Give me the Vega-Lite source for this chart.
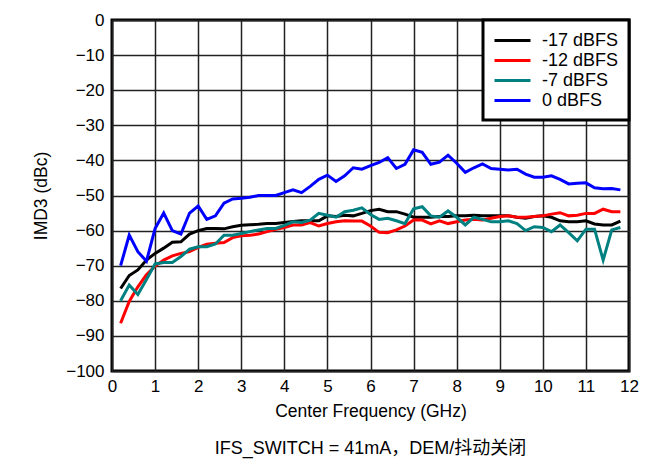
{
  "$schema": "https://vega.github.io/schema/vega-lite/v6.json",
  "autosize": "none",
  "width": 517,
  "height": 351,
  "padding": {"left": 112, "top": 20, "right": 33, "bottom": 94},
  "background": "white",
  "config": {
    "font": "Liberation Sans, Noto Sans CJK SC",
    "view": {"stroke": "black", "strokeWidth": 3},
    "legend": {"strokeColor": "black", "strokeWidth": 3, "fillColor": "white"},
    "axis": {"labelFont": "Liberation Sans", "titleFont": "Liberation Sans", "labelFontSize": 17, "titleFontSize": 17.5, "titleFontWeight": "normal", "labelColor": "black", "titleColor": "black", "grid": true, "gridColor": "#222", "gridWidth": 1.5, "gridOpacity": 1, "ticks": false, "domain": false}
  },
  "title": {"text": "IFS_SWITCH = 41mA，DEM/抖动关闭", "orient": "bottom", "fontSize": 18, "fontWeight": "normal", "font": "Liberation Sans, Noto Sans CJK SC", "color": "black", "offset": 20},
  "data": {"values": [
    {"f":0.2,"s":"-17 dBFS","v":-76.5},{"f":0.4,"s":"-17 dBFS","v":-72.8},{"f":0.6,"s":"-17 dBFS","v":-71.2},{"f":0.8,"s":"-17 dBFS","v":-68.4},{"f":1.0,"s":"-17 dBFS","v":-66.5},{"f":1.2,"s":"-17 dBFS","v":-65},{"f":1.4,"s":"-17 dBFS","v":-63.3},{"f":1.6,"s":"-17 dBFS","v":-63.2},{"f":1.8,"s":"-17 dBFS","v":-61},{"f":2.0,"s":"-17 dBFS","v":-60},{"f":2.2,"s":"-17 dBFS","v":-59.4},{"f":2.4,"s":"-17 dBFS","v":-59.4},{"f":2.6,"s":"-17 dBFS","v":-59.5},{"f":2.8,"s":"-17 dBFS","v":-58.9},{"f":3.0,"s":"-17 dBFS","v":-58.5},{"f":3.2,"s":"-17 dBFS","v":-58.3},{"f":3.4,"s":"-17 dBFS","v":-58.2},{"f":3.6,"s":"-17 dBFS","v":-58},{"f":3.8,"s":"-17 dBFS","v":-58},{"f":4.0,"s":"-17 dBFS","v":-57.7},{"f":4.2,"s":"-17 dBFS","v":-57.4},{"f":4.4,"s":"-17 dBFS","v":-57.2},{"f":4.6,"s":"-17 dBFS","v":-57.2},{"f":4.8,"s":"-17 dBFS","v":-57.2},{"f":5.0,"s":"-17 dBFS","v":-55.8},{"f":5.2,"s":"-17 dBFS","v":-56},{"f":5.4,"s":"-17 dBFS","v":-55.6},{"f":5.6,"s":"-17 dBFS","v":-55.8},{"f":5.8,"s":"-17 dBFS","v":-55.1},{"f":6.0,"s":"-17 dBFS","v":-54.3},{"f":6.2,"s":"-17 dBFS","v":-53.9},{"f":6.4,"s":"-17 dBFS","v":-54.6},{"f":6.6,"s":"-17 dBFS","v":-54.6},{"f":6.8,"s":"-17 dBFS","v":-55.3},{"f":7.0,"s":"-17 dBFS","v":-56.2},{"f":7.2,"s":"-17 dBFS","v":-56.2},{"f":7.4,"s":"-17 dBFS","v":-56.2},{"f":7.6,"s":"-17 dBFS","v":-56},{"f":7.8,"s":"-17 dBFS","v":-56},{"f":8.0,"s":"-17 dBFS","v":-55.8},{"f":8.2,"s":"-17 dBFS","v":-55.8},{"f":8.4,"s":"-17 dBFS","v":-55.6},{"f":8.6,"s":"-17 dBFS","v":-55.8},{"f":8.8,"s":"-17 dBFS","v":-55.8},{"f":9.0,"s":"-17 dBFS","v":-55.8},{"f":9.2,"s":"-17 dBFS","v":-55.8},{"f":9.4,"s":"-17 dBFS","v":-56.2},{"f":9.6,"s":"-17 dBFS","v":-56.5},{"f":9.8,"s":"-17 dBFS","v":-56},{"f":10.0,"s":"-17 dBFS","v":-55.8},{"f":10.2,"s":"-17 dBFS","v":-56.2},{"f":10.4,"s":"-17 dBFS","v":-57.2},{"f":10.6,"s":"-17 dBFS","v":-57.5},{"f":10.8,"s":"-17 dBFS","v":-57.5},{"f":11.0,"s":"-17 dBFS","v":-57.2},{"f":11.2,"s":"-17 dBFS","v":-58.1},{"f":11.4,"s":"-17 dBFS","v":-58.4},{"f":11.6,"s":"-17 dBFS","v":-58.4},{"f":11.8,"s":"-17 dBFS","v":-57.3},
    {"f":0.2,"s":"-12 dBFS","v":-86.4},{"f":0.4,"s":"-12 dBFS","v":-80.2},{"f":0.6,"s":"-12 dBFS","v":-76},{"f":0.8,"s":"-12 dBFS","v":-72.6},{"f":1.0,"s":"-12 dBFS","v":-70.1},{"f":1.2,"s":"-12 dBFS","v":-68.4},{"f":1.4,"s":"-12 dBFS","v":-67.2},{"f":1.6,"s":"-12 dBFS","v":-66.5},{"f":1.8,"s":"-12 dBFS","v":-66},{"f":2.0,"s":"-12 dBFS","v":-64.8},{"f":2.2,"s":"-12 dBFS","v":-63.9},{"f":2.4,"s":"-12 dBFS","v":-63.6},{"f":2.6,"s":"-12 dBFS","v":-63.4},{"f":2.8,"s":"-12 dBFS","v":-62},{"f":3.0,"s":"-12 dBFS","v":-61.5},{"f":3.2,"s":"-12 dBFS","v":-61.3},{"f":3.4,"s":"-12 dBFS","v":-61},{"f":3.6,"s":"-12 dBFS","v":-60.3},{"f":3.8,"s":"-12 dBFS","v":-59.6},{"f":4.0,"s":"-12 dBFS","v":-59.1},{"f":4.2,"s":"-12 dBFS","v":-58.4},{"f":4.4,"s":"-12 dBFS","v":-58.4},{"f":4.6,"s":"-12 dBFS","v":-57.7},{"f":4.8,"s":"-12 dBFS","v":-58.7},{"f":5.0,"s":"-12 dBFS","v":-58},{"f":5.2,"s":"-12 dBFS","v":-57.5},{"f":5.4,"s":"-12 dBFS","v":-57.2},{"f":5.6,"s":"-12 dBFS","v":-57.3},{"f":5.8,"s":"-12 dBFS","v":-57.3},{"f":6.0,"s":"-12 dBFS","v":-58.7},{"f":6.2,"s":"-12 dBFS","v":-60.5},{"f":6.4,"s":"-12 dBFS","v":-60.6},{"f":6.6,"s":"-12 dBFS","v":-59.8},{"f":6.8,"s":"-12 dBFS","v":-58.7},{"f":7.0,"s":"-12 dBFS","v":-57},{"f":7.2,"s":"-12 dBFS","v":-57},{"f":7.4,"s":"-12 dBFS","v":-58.1},{"f":7.6,"s":"-12 dBFS","v":-57.2},{"f":7.8,"s":"-12 dBFS","v":-58},{"f":8.0,"s":"-12 dBFS","v":-57.5},{"f":8.2,"s":"-12 dBFS","v":-57},{"f":8.4,"s":"-12 dBFS","v":-56.8},{"f":8.6,"s":"-12 dBFS","v":-57},{"f":8.8,"s":"-12 dBFS","v":-56.5},{"f":9.0,"s":"-12 dBFS","v":-56},{"f":9.2,"s":"-12 dBFS","v":-55.8},{"f":9.4,"s":"-12 dBFS","v":-56.2},{"f":9.6,"s":"-12 dBFS","v":-56.2},{"f":9.8,"s":"-12 dBFS","v":-56},{"f":10.0,"s":"-12 dBFS","v":-55.8},{"f":10.2,"s":"-12 dBFS","v":-55.3},{"f":10.4,"s":"-12 dBFS","v":-54.9},{"f":10.6,"s":"-12 dBFS","v":-55.8},{"f":10.8,"s":"-12 dBFS","v":-55.6},{"f":11.0,"s":"-12 dBFS","v":-55.1},{"f":11.2,"s":"-12 dBFS","v":-55.1},{"f":11.4,"s":"-12 dBFS","v":-53.9},{"f":11.6,"s":"-12 dBFS","v":-54.6},{"f":11.8,"s":"-12 dBFS","v":-54.6},
    {"f":0.2,"s":"-7 dBFS","v":-80},{"f":0.4,"s":"-7 dBFS","v":-75.5},{"f":0.6,"s":"-7 dBFS","v":-78.2},{"f":0.8,"s":"-7 dBFS","v":-73.9},{"f":1.0,"s":"-7 dBFS","v":-69.5},{"f":1.2,"s":"-7 dBFS","v":-69.1},{"f":1.4,"s":"-7 dBFS","v":-69.1},{"f":1.6,"s":"-7 dBFS","v":-67.4},{"f":1.8,"s":"-7 dBFS","v":-65.3},{"f":2.0,"s":"-7 dBFS","v":-64.6},{"f":2.2,"s":"-7 dBFS","v":-64.6},{"f":2.4,"s":"-7 dBFS","v":-63.8},{"f":2.6,"s":"-7 dBFS","v":-61.3},{"f":2.8,"s":"-7 dBFS","v":-61.3},{"f":3.0,"s":"-7 dBFS","v":-60.8},{"f":3.2,"s":"-7 dBFS","v":-60.3},{"f":3.4,"s":"-7 dBFS","v":-59.8},{"f":3.6,"s":"-7 dBFS","v":-59.4},{"f":3.8,"s":"-7 dBFS","v":-59.4},{"f":4.0,"s":"-7 dBFS","v":-58.5},{"f":4.2,"s":"-7 dBFS","v":-57.5},{"f":4.4,"s":"-7 dBFS","v":-57.7},{"f":4.6,"s":"-7 dBFS","v":-57},{"f":4.8,"s":"-7 dBFS","v":-55.1},{"f":5.0,"s":"-7 dBFS","v":-55.6},{"f":5.2,"s":"-7 dBFS","v":-56.2},{"f":5.4,"s":"-7 dBFS","v":-54.6},{"f":5.6,"s":"-7 dBFS","v":-54.2},{"f":5.8,"s":"-7 dBFS","v":-53.5},{"f":6.0,"s":"-7 dBFS","v":-55.4},{"f":6.2,"s":"-7 dBFS","v":-56.8},{"f":6.4,"s":"-7 dBFS","v":-56.5},{"f":6.6,"s":"-7 dBFS","v":-57.2},{"f":6.8,"s":"-7 dBFS","v":-58},{"f":7.0,"s":"-7 dBFS","v":-53.8},{"f":7.2,"s":"-7 dBFS","v":-53.2},{"f":7.4,"s":"-7 dBFS","v":-55.8},{"f":7.6,"s":"-7 dBFS","v":-56.2},{"f":7.8,"s":"-7 dBFS","v":-54.4},{"f":8.0,"s":"-7 dBFS","v":-56.2},{"f":8.2,"s":"-7 dBFS","v":-58.4},{"f":8.4,"s":"-7 dBFS","v":-56.2},{"f":8.6,"s":"-7 dBFS","v":-56.8},{"f":8.8,"s":"-7 dBFS","v":-57.5},{"f":9.0,"s":"-7 dBFS","v":-57.5},{"f":9.2,"s":"-7 dBFS","v":-57.2},{"f":9.4,"s":"-7 dBFS","v":-58},{"f":9.6,"s":"-7 dBFS","v":-60},{"f":9.8,"s":"-7 dBFS","v":-58.9},{"f":10.0,"s":"-7 dBFS","v":-59.1},{"f":10.2,"s":"-7 dBFS","v":-60.3},{"f":10.4,"s":"-7 dBFS","v":-58.4},{"f":10.6,"s":"-7 dBFS","v":-60.6},{"f":10.8,"s":"-7 dBFS","v":-62.9},{"f":11.0,"s":"-7 dBFS","v":-59.6},{"f":11.2,"s":"-7 dBFS","v":-59.6},{"f":11.4,"s":"-7 dBFS","v":-68.4},{"f":11.6,"s":"-7 dBFS","v":-59.8},{"f":11.8,"s":"-7 dBFS","v":-59.1},
    {"f":0.2,"s":"0 dBFS","v":-70},{"f":0.4,"s":"0 dBFS","v":-61.3},{"f":0.6,"s":"0 dBFS","v":-66},{"f":0.8,"s":"0 dBFS","v":-68.7},{"f":1.0,"s":"0 dBFS","v":-59.4},{"f":1.2,"s":"0 dBFS","v":-55},{"f":1.4,"s":"0 dBFS","v":-60},{"f":1.6,"s":"0 dBFS","v":-61},{"f":1.8,"s":"0 dBFS","v":-55},{"f":2.0,"s":"0 dBFS","v":-53},{"f":2.2,"s":"0 dBFS","v":-56.8},{"f":2.4,"s":"0 dBFS","v":-55.8},{"f":2.6,"s":"0 dBFS","v":-52.2},{"f":2.8,"s":"0 dBFS","v":-51},{"f":3.0,"s":"0 dBFS","v":-50.8},{"f":3.2,"s":"0 dBFS","v":-50.5},{"f":3.4,"s":"0 dBFS","v":-50},{"f":3.6,"s":"0 dBFS","v":-50},{"f":3.8,"s":"0 dBFS","v":-50},{"f":4.0,"s":"0 dBFS","v":-49.2},{"f":4.2,"s":"0 dBFS","v":-48.4},{"f":4.4,"s":"0 dBFS","v":-49.2},{"f":4.6,"s":"0 dBFS","v":-47.4},{"f":4.8,"s":"0 dBFS","v":-45.4},{"f":5.0,"s":"0 dBFS","v":-44.2},{"f":5.2,"s":"0 dBFS","v":-46},{"f":5.4,"s":"0 dBFS","v":-44.4},{"f":5.6,"s":"0 dBFS","v":-42.1},{"f":5.8,"s":"0 dBFS","v":-42.5},{"f":6.0,"s":"0 dBFS","v":-41.5},{"f":6.2,"s":"0 dBFS","v":-40.6},{"f":6.4,"s":"0 dBFS","v":-39.2},{"f":6.6,"s":"0 dBFS","v":-42.3},{"f":6.8,"s":"0 dBFS","v":-41.1},{"f":7.0,"s":"0 dBFS","v":-37},{"f":7.2,"s":"0 dBFS","v":-37.7},{"f":7.4,"s":"0 dBFS","v":-41.1},{"f":7.6,"s":"0 dBFS","v":-40.5},{"f":7.8,"s":"0 dBFS","v":-38.5},{"f":8.0,"s":"0 dBFS","v":-40.8},{"f":8.2,"s":"0 dBFS","v":-43.4},{"f":8.4,"s":"0 dBFS","v":-42.1},{"f":8.6,"s":"0 dBFS","v":-41},{"f":8.8,"s":"0 dBFS","v":-42.3},{"f":9.0,"s":"0 dBFS","v":-42.5},{"f":9.2,"s":"0 dBFS","v":-42.7},{"f":9.4,"s":"0 dBFS","v":-42.5},{"f":9.6,"s":"0 dBFS","v":-43.9},{"f":9.8,"s":"0 dBFS","v":-44.8},{"f":10.0,"s":"0 dBFS","v":-44.8},{"f":10.2,"s":"0 dBFS","v":-44.4},{"f":10.4,"s":"0 dBFS","v":-45.4},{"f":10.6,"s":"0 dBFS","v":-46.7},{"f":10.8,"s":"0 dBFS","v":-46.5},{"f":11.0,"s":"0 dBFS","v":-46.4},{"f":11.2,"s":"0 dBFS","v":-47.8},{"f":11.4,"s":"0 dBFS","v":-48.1},{"f":11.6,"s":"0 dBFS","v":-48},{"f":11.8,"s":"0 dBFS","v":-48.4}
  ]},
  "mark": {"type": "line", "strokeWidth": 3, "clip": true},
  "encoding": {
    "x": {"field": "f", "type": "quantitative", "scale": {"domain": [0, 12], "nice": false}, "axis": {"title": "Center Frequency (GHz)", "values": [0,1,2,3,4,5,6,7,8,9,10,11,12], "labelPadding": 7, "titlePadding": 8, "labelFlush": false}},
    "y": {"field": "v", "type": "quantitative", "scale": {"domain": [-100, 0], "nice": false}, "axis": {"title": "IMD3 (dBc)", "values": [-100,-90,-80,-70,-60,-50,-40,-30,-20,-10,0], "labelPadding": 8, "titlePadding": 15, "labelFlush": false}},
    "color": {"field": "s", "type": "nominal", "sort": ["-17 dBFS", "-12 dBFS", "-7 dBFS", "0 dBFS"], "scale": {"domain": ["-17 dBFS", "-12 dBFS", "-7 dBFS", "0 dBFS"], "range": ["#000000", "#ff0000", "#008080", "#0000ff"]},
      "legend": {"title": null, "orient": "top-right", "offset": 0, "padding": 10, "symbolType": "M-2,0L2,0", "symbolSize": 324, "symbolStrokeWidth": 3, "symbolOffset": 9, "labelFontSize": 18, "labelFont": "Liberation Sans", "labelColor": "black", "labelOffset": 19, "rowPadding": -1}}
  }
}
